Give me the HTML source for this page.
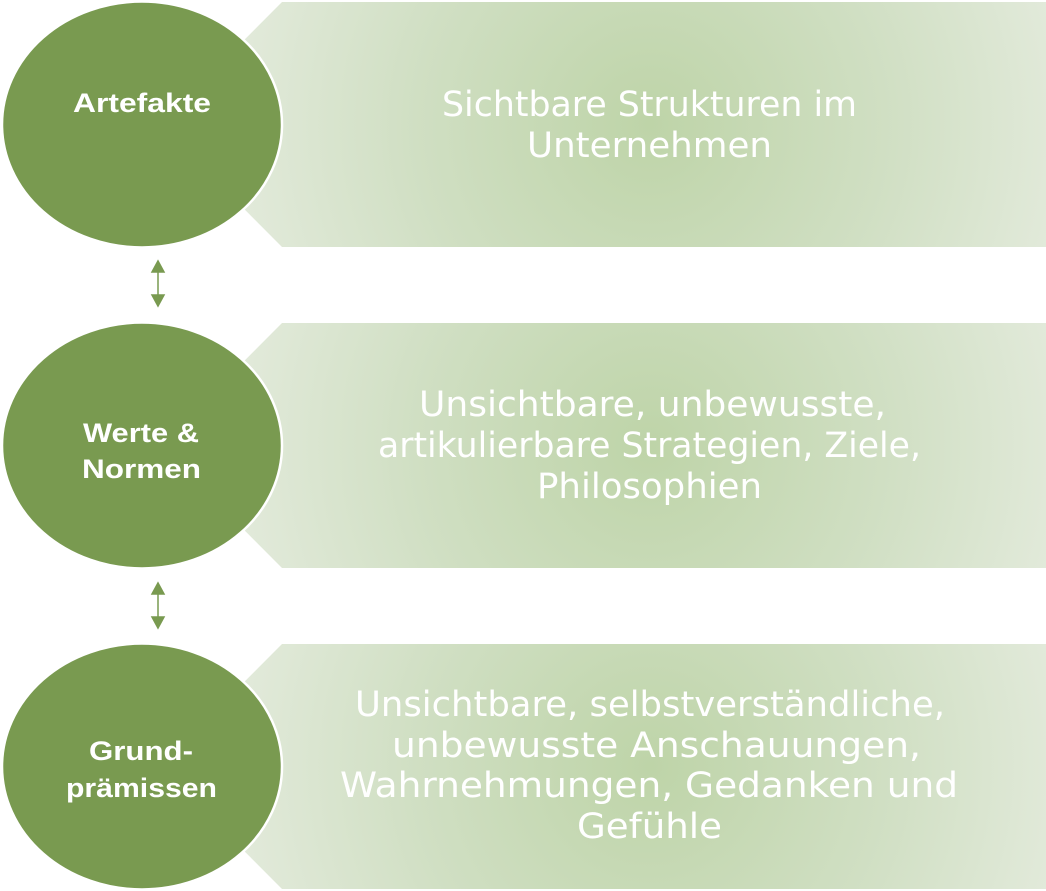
<!DOCTYPE html>
<html><head><meta charset="utf-8"><style>
html,body{margin:0;padding:0;background:#fff;}
svg{display:block;}
</style></head><body>
<svg width="1046" height="891" viewBox="0 0 1046 891" xmlns="http://www.w3.org/2000/svg">
<defs>
<radialGradient id="g1" gradientUnits="userSpaceOnUse" cx="650" cy="124.5" r="470">
<stop offset="0" stop-color="#bed4a8"/>
<stop offset="0.5" stop-color="#d0dfc3"/>
<stop offset="1" stop-color="#e7ede1"/>
</radialGradient>
<radialGradient id="g2" gradientUnits="userSpaceOnUse" cx="650" cy="445.5" r="470">
<stop offset="0" stop-color="#bed4a8"/>
<stop offset="0.5" stop-color="#d0dfc3"/>
<stop offset="1" stop-color="#e7ede1"/>
</radialGradient>
<radialGradient id="g3" gradientUnits="userSpaceOnUse" cx="650" cy="766.5" r="470">
<stop offset="0" stop-color="#bed4a8"/>
<stop offset="0.5" stop-color="#d0dfc3"/>
<stop offset="1" stop-color="#e7ede1"/>
</radialGradient>
</defs>
<polygon points="160,124.5 282,2 1046,2 1046,247 282,247" fill="url(#g1)"/>
<polygon points="160,445.5 282,323 1046,323 1046,568 282,568" fill="url(#g2)"/>
<polygon points="160,766.5 282,644 1046,644 1046,889 282,889" fill="url(#g3)"/>
<g fill="#799a50" stroke="#fff" stroke-width="2.5">
<ellipse cx="142" cy="124.5" rx="140" ry="123"/>
<ellipse cx="142" cy="445.5" rx="140" ry="123"/>
<ellipse cx="142" cy="766.5" rx="140" ry="123"/>
</g>
<g stroke="#799a50" stroke-width="1.5" fill="#799a50">
<line x1="158" y1="268" x2="158" y2="300"/>
<polygon points="152,272 164,272 158,261"/>
<polygon points="152,295 164,295 158,306"/>
<line x1="158" y1="590" x2="158" y2="622"/>
<polygon points="152,594 164,594 158,583"/>
<polygon points="152,617 164,617 158,628"/>
</g>
<g font-family="'Liberation Sans', sans-serif" font-weight="bold" font-size="27" fill="#fff">
<text x="73" y="112" textLength="138" lengthAdjust="spacingAndGlyphs">Artefakte</text>
<text x="83" y="442" textLength="116" lengthAdjust="spacingAndGlyphs">Werte &amp;</text>
<text x="82" y="478" textLength="119" lengthAdjust="spacingAndGlyphs">Normen</text>
<text x="89" y="760" textLength="104" lengthAdjust="spacingAndGlyphs">Grund-</text>
<text x="66" y="797" textLength="151" lengthAdjust="spacingAndGlyphs">prämissen</text>
</g>
<g font-family="'DejaVu Sans', 'Liberation Sans', sans-serif" font-size="35" fill="#fff">
<text x="442" y="116" textLength="415" lengthAdjust="spacingAndGlyphs">Sichtbare Strukturen im</text>
<text x="527" y="157" textLength="245" lengthAdjust="spacingAndGlyphs">Unternehmen</text>
<text x="419" y="416" textLength="467" lengthAdjust="spacingAndGlyphs">Unsichtbare, unbewusste,</text>
<text x="378" y="457" textLength="543" lengthAdjust="spacingAndGlyphs">artikulierbare Strategien, Ziele,</text>
<text x="537" y="498" textLength="225" lengthAdjust="spacingAndGlyphs">Philosophien</text>
<text x="355" y="716" textLength="590" lengthAdjust="spacingAndGlyphs">Unsichtbare, selbstverständliche,</text>
<text x="392" y="757" textLength="529" lengthAdjust="spacingAndGlyphs">unbewusste Anschauungen,</text>
<text x="340" y="797" textLength="618" lengthAdjust="spacingAndGlyphs">Wahrnehmungen, Gedanken und</text>
<text x="577" y="838" textLength="145" lengthAdjust="spacingAndGlyphs">Gefühle</text>
</g>
</svg>
</body></html>
